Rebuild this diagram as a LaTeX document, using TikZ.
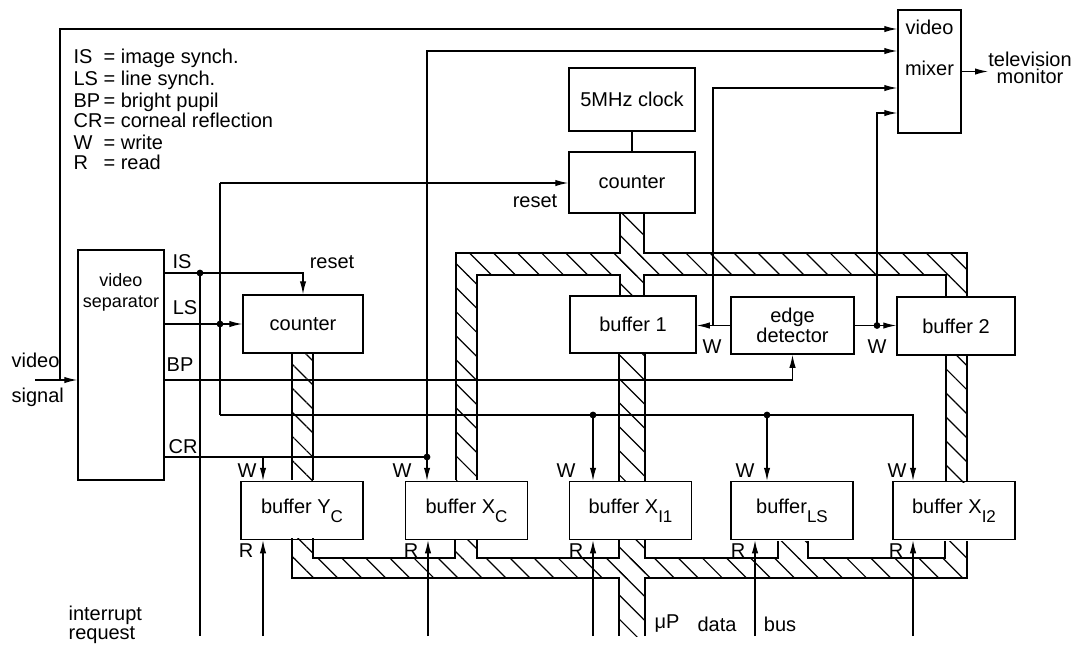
\documentclass[tikz,border=0pt]{standalone}
\usepackage{fontspec}
\setmainfont{Liberation Sans}
\usetikzlibrary{arrows.meta, patterns.meta, calc}
\newcommand{\subx}[1]{\raisebox{-4.5pt}{\fontsize{8.5}{9}\selectfont #1}}

\begin{document}
\begin{tikzpicture}[x=0.5pt, y=-0.5pt, line width=0.6pt,
  >={Latex[length=6.5pt,width=3.2pt]},
  font=\fontsize{10}{12}\selectfont,
  box/.style={draw, line width=0.75pt, inner sep=1pt, align=center},
  hatch/.style={pattern={Lines[angle=-45,distance=8.5pt,line width=0.6pt]}},
  tag/.style={inner sep=1pt}]
  \useasboundingbox (0,0) rectangle (1079,649);

  % data buses (hatched)
  \foreach \xa/\ya/\xb/\yb in {292/353/313/480, 456/253/967/275, 456/275/477/480,
      946/275/967/297, 946/355/967/482, 620/213/644/296, 619/353/645/481,
      292/558/967/578, 292/538/313/558, 455/539/477/558, 619/539/645/636,
      778/541/808/558, 945/541/967/558}
    \fill[hatch] (\xa,\ya) rectangle (\xb,\yb);
  \draw (292,353) -- (292,480) (313,353) -- (313,480);
  \draw (456,480) -- (456,253) -- (620,253) -- (620,213)
        (644,213) -- (644,253) -- (967,253) -- (967,297)
        (477,480) -- (477,275) -- (620,275) -- (620,296)
        (644,296) -- (644,275) -- (946,275) -- (946,297)
        (946,355) -- (946,482) (967,355) -- (967,482)
        (619,353) -- (619,481) (645,353) -- (645,481);
  \draw (292,538) -- (292,578) -- (619,578) -- (619,636)
        (645,636) -- (645,578) -- (967,578) -- (967,541)
        (313,538) -- (313,558) -- (455,558) -- (455,539)
        (477,539) -- (477,558) -- (619,558) -- (619,539)
        (645,539) -- (645,558) -- (778,558) -- (778,541)
        (808,541) -- (808,558) -- (945,558) -- (945,541);

  % blocks
  \node[box, minimum width=43pt, minimum height=115pt] (sep) at (121,365) {};
  \node[tag, align=center, font=\fontsize{9}{10.5}\selectfont] (sepText) at (121,292) {video\\separator};
  \node[box, minimum width=60pt, minimum height=29pt] (ctrA) at (303,324) {counter};
  \node[box, minimum width=63pt, minimum height=31.5pt] (clock) at (632,99.5) {5MHz clock};
  \node[box, minimum width=63pt, minimum height=30.5pt] (ctrB) at (632,182.5) {counter};
  \node[box, minimum width=63pt, minimum height=28.5pt] (buf1) at (633,324.5) {buffer 1};
  \node[box, minimum width=61.5pt, minimum height=28.5pt, font=\fontsize{10}{8.5}\selectfont] (edge) at (792.5,325.5) {edge\\detector};
  \node[box, minimum width=59pt, minimum height=29pt] (buf2) at (956,326) {buffer 2};
  \node[box, minimum width=31.5pt, minimum height=61.5pt] (mixer) at (929.5,71.5) {video\\[8.5pt]mixer\\[8.5pt]\strut};
  \foreach \name/\xc/\txt in {Yc/302/{buffer Y\subx{C}}, Xc/466.5/{buffer X\subx{C}},
      XI1/630.5/{buffer X\subx{I1}}, LS/792/{buffer\subx{LS}}, XI2/954/{buffer X\subx{I2}}}
    \node[box, minimum width=61pt, minimum height=29pt] (\name) at (\xc,510.5) {\txt};

  % junctions
  \coordinate (vin) at (35,380);
  \coordinate (vsplit) at (60,380);
  \coordinate (vtop) at (60,29);
  \coordinate (jIS) at (200,273);
  \coordinate (irq) at (200,636);
  \coordinate (jLS) at (220,324);
  \coordinate (rsTop) at (220,183);
  \coordinate (rsBot) at (220,415);
  \coordinate (jW1) at (593,415);
  \coordinate (jW2) at (767,415);
  \coordinate (wXI2) at (913,415);
  \coordinate (wYc) at (263,457);
  \coordinate (jCR) at (427,457);
  \coordinate (crTop) at (427,51);
  \coordinate (jE1) at (713,325.5);
  \coordinate (e1Top) at (713,88);
  \coordinate (jE2) at (877,325.5);
  \coordinate (e2Top) at (877,113);

  % signal lines
  \draw[->] (vin) -- (vin -| sep.west);
  \draw[->] (vsplit) -- (vtop) -- (vtop -| mixer.west);
  \draw[->] (sep.east |- jIS) -- (jIS) -| (ctrA.north);
  \draw (jIS) -- (irq);
  \draw[->] (sep.east |- jLS) -- (ctrA.west);
  \draw (rsTop) -- (rsBot);
  \draw[->] (rsTop) -- (rsTop -| ctrB.west);
  \draw[->] (rsBot) -- (wXI2) -- (wXI2 |- XI2.north);
  \draw[->] (jW1) -- (jW1 |- XI1.north);
  \draw[->] (jW2) -- (jW2 |- LS.north);
  \draw[->] (sep.east |- vin) -| (edge.south);
  \draw (sep.east |- jCR) -- (jCR);
  \draw[->] (wYc) -- (wYc |- Yc.north);
  \draw[->] (jCR) -- (jCR |- Xc.north);
  \draw[->] (jCR) -- (crTop) -- (crTop -| mixer.west);
  \draw (clock) -- (ctrB);
  \draw[->] (edge.west) -- (edge.west -| buf1.east);
  \draw[->] (jE1) -- (e1Top) -- (e1Top -| mixer.west);
  \draw[->] (edge.east) -- (edge.east -| buf2.west);
  \draw[->] (jE2) -- (e2Top) -- (e2Top -| mixer.west);
  \foreach \j in {jIS,jLS,jCR,jW1,jW2,jE2}
    \fill (\j) circle[radius=1.7pt];

  % read lines
  \foreach \name/\xr in {Yc/263, Xc/428, XI1/593, LS/755, XI2/913}{
    \coordinate (r\name) at (\xr,636);
    \draw[->] (r\name) -- (r\name |- \name.south);
    \node[tag] (rl\name) at ({\xr-17},551) {R};
  }
  \foreach \xw in {247,402,566,745,897}
    \node[tag] (wl\xw) at (\xw,471) {W};
  \node[tag] (wlA) at (712,347) {W};
  \node[tag] (wlB) at (877,347) {W};

  % labels
  \node[tag, anchor=west] (tv) at (988,72) {};
  \node[tag, align=center, font=\fontsize{10}{8.5}\selectfont] (tvText) at (1030,68) {television\\monitor};
  \draw[->] (mixer.east) -- (tv.west |- mixer.east);
  \node[tag, align=left, anchor=west, font=\fontsize{10}{17.5}\selectfont] (vsig) at (9,380) {video\\signal};
  \node[tag] (lIS) at (182,262) {IS};
  \node[tag] (lLS) at (185,308) {LS};
  \node[tag] (lBP) at (180,365) {BP};
  \node[tag] (lCR) at (183,447) {CR};
  \node[tag] (rstA) at (332,262) {reset};
  \node[tag] (rstB) at (535,201) {reset};
  \node[tag] (bus1) at (667,624) {μP};
  \node[tag] (bus2) at (717,624) {data};
  \node[tag] (bus3) at (780,624) {bus};
  \node[tag, align=left, anchor=west, font=\fontsize{10}{7.5}\selectfont] (irqText) at (66,625) {interrupt\\request};
  \foreach \ab/\desc/\yy [count=\i] in {IS/image synch./58, LS/line synch./80,
      BP/bright pupil/102, CR/corneal reflection/120, W/write/142, R/read/162}
    \node[tag, anchor=west] (leg\i) at (71,\yy) {\makebox[15pt][l]{\ab}= \desc};
\end{tikzpicture}
\end{document}
